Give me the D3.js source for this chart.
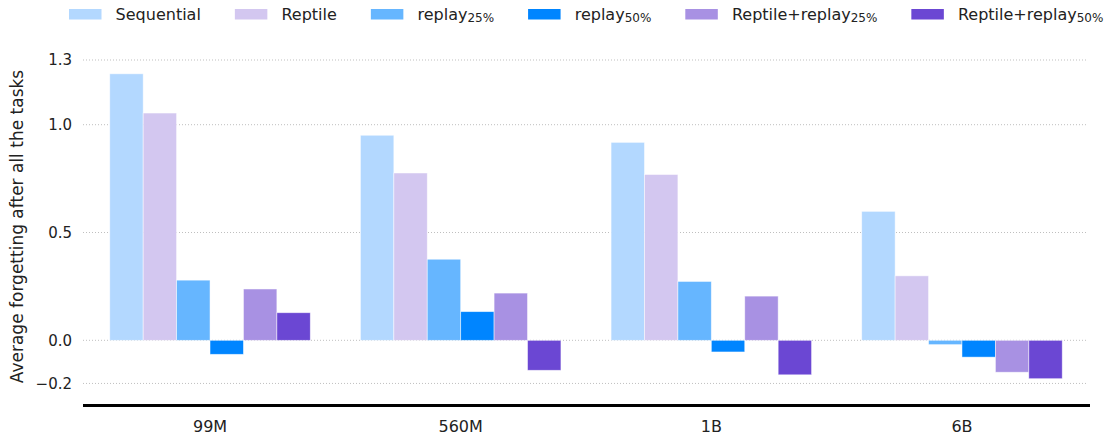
<!DOCTYPE html>
<html><head><meta charset="utf-8">
<script src="https://cdn.jsdelivr.net/npm/d3@7"></script>
<style>body{margin:0;background:#fff}svg{display:block;font-family:"DejaVu Sans",sans-serif}</style>
</head><body><svg id="c" width="1109" height="435"></svg>
<script>
const categories = ["99M", "560M", "1B", "6B"];
const seriesNames = ["Sequential", "Reptile", "replay25", "replay50", "Reptile+replay25", "Reptile+replay50"];
const seriesLabels = [["Sequential", ""], ["Reptile", ""], ["replay", "25%"], ["replay", "50%"], ["Reptile+replay", "25%"], ["Reptile+replay", "50%"]];
const seriesColors = ["#b3d8ff", "#d3c7f0", "#66b6ff", "#0085ff", "#a891e3", "#6b47d3"];
const sequential = [1.236, 0.951, 0.918, 0.598];
const reptile = [1.054, 0.776, 0.769, 0.299];
const replay25 = [0.279, 0.376, 0.273, -0.02];
const replay50 = [-0.065, 0.133, -0.054, -0.078];
const reptileReplay25 = [0.238, 0.219, 0.205, -0.148];
const reptileReplay50 = [0.128, -0.139, -0.16, -0.178];
const yTicks = [-0.2, 0.0, 0.5, 1.0, 1.3];
const yLabel = "Average forgetting after all the tasks";

const values = [sequential, reptile, replay25, replay50, reptileReplay25, reptileReplay50];
const svg = d3.select("#c");
const x = d3.scaleBand().domain(categories).range([84.7, 1087.3]).padding(0);
const y = d3.scaleLinear().domain([-0.3, 1.3]).range([405, 60]);
const inner = d3.scaleBand().domain(seriesNames).range([0, x.bandwidth() * 0.8]);
const off = x.bandwidth() * 0.1;

// gridlines
svg.append("g").selectAll("line").data(yTicks).join("line")
  .attr("x1", 83).attr("x2", 1088)
  .attr("y1", d => y(d)).attr("y2", d => y(d))
  .attr("stroke", "#b8b8b8").attr("stroke-width", 0.9).attr("stroke-dasharray", "1,2");

// bars
const data = [];
categories.forEach((c, i) => seriesNames.forEach((s, j) => data.push({c, s, j, v: values[j][i]})));
svg.append("g").selectAll("rect").data(data).join("rect")
  .attr("x", d => x(d.c) + off + inner(d.s))
  .attr("width", inner.bandwidth())
  .attr("y", d => y(Math.max(0, d.v)))
  .attr("height", d => Math.abs(y(d.v) - y(0)))
  .attr("fill", d => seriesColors[d.j])
  .attr("stroke", "#ffffff").attr("stroke-opacity", 0.6).attr("stroke-width", 0.8);

// y axis
const yAxis = d3.axisLeft(y).tickValues(yTicks).tickSize(0).tickPadding(0)
  .tickFormat(d => (d < 0 ? "\u2212" : "") + Math.abs(d).toFixed(1));
const ya = svg.append("g").attr("transform", "translate(72,0)").call(yAxis);
ya.select(".domain").remove();
ya.selectAll("text").attr("font-size", 15).attr("fill", "#222").attr("font-family", "DejaVu Sans");

// x axis
const xAxis = d3.axisBottom(x).tickSize(0).tickPadding(16);
const xa = svg.append("g").attr("transform", "translate(0,405)").call(xAxis);
xa.select(".domain").remove();
xa.selectAll("text").attr("font-size", 16).attr("fill", "#222").attr("font-family", "DejaVu Sans");
svg.append("line").attr("x1", 83).attr("x2", 1090).attr("y1", 405.5).attr("y2", 405.5)
  .attr("stroke", "#000").attr("stroke-width", 3);

// y label
svg.append("text").attr("transform", "translate(23,226.5) rotate(-90)")
  .attr("text-anchor", "middle").attr("font-size", 17).attr("fill", "#222").text(yLabel);

// legend
const lg = svg.append("g");
let lx = 69;
seriesLabels.forEach((lab, j) => {
  lg.append("rect").attr("x", lx).attr("y", 9).attr("width", 32.5).attr("height", 10.5).attr("fill", seriesColors[j]);
  const t = lg.append("text").attr("x", lx + 46.6).attr("y", 19.5).attr("font-size", 16).attr("fill", "#222");
  t.append("tspan").text(lab[0]);
  if (lab[1]) t.append("tspan").attr("font-size", 12).attr("dy", 2.5).text(lab[1]);
  const w = t.node().getComputedTextLength();
  lx = lx + 46.6 + w + 34;
});
</script></body></html>
